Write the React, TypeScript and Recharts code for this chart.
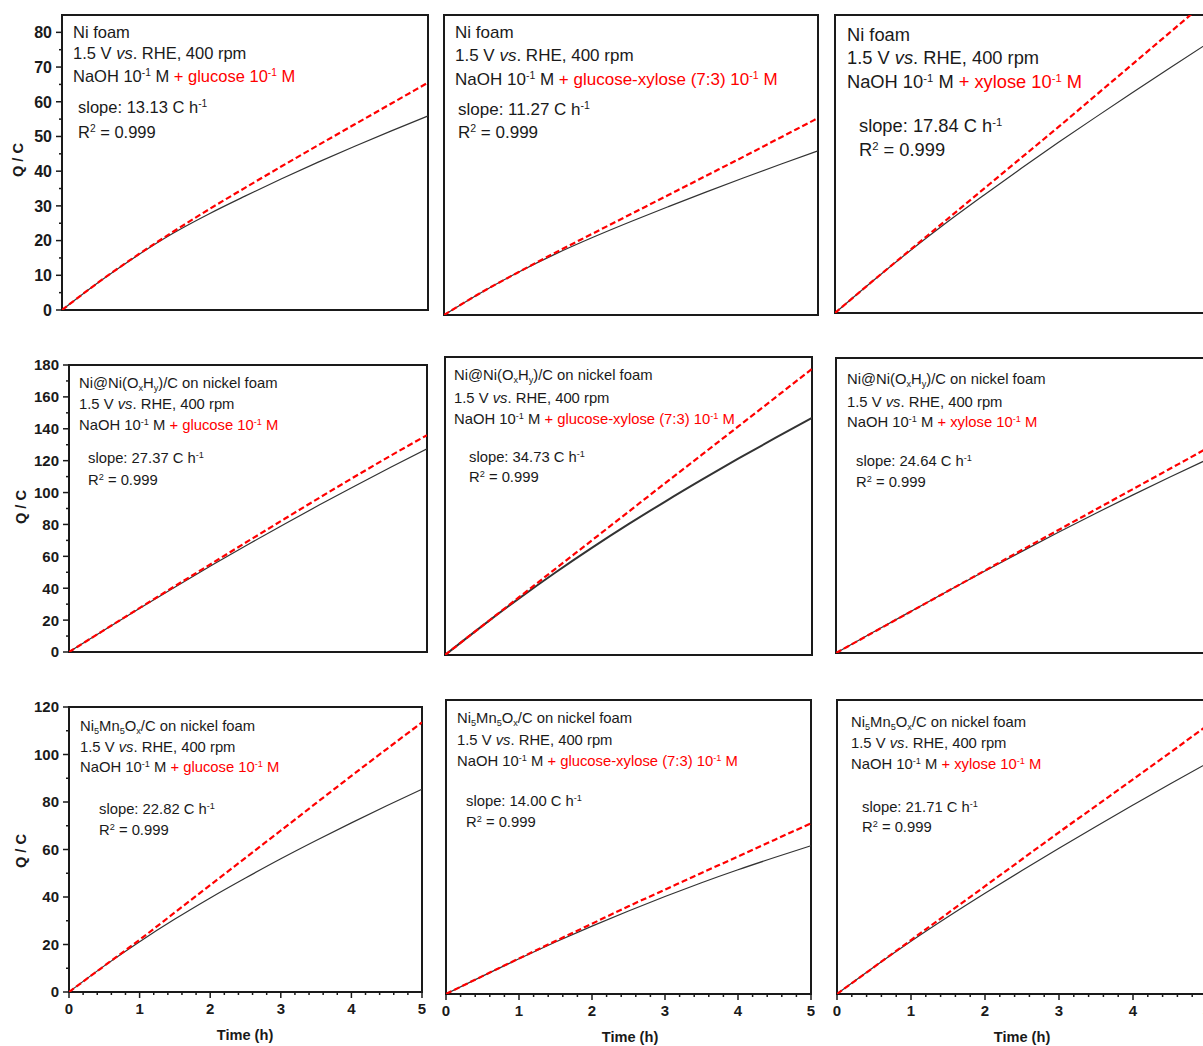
import React from 'react'
import { LineChart, Line, XAxis, YAxis, ReferenceArea } from 'recharts'

const FONT = '"Liberation Sans", Arial, sans-serif'
const RED = '#ff0000'
const INK = '#1a1a1a'

const hours = [0, 0.5, 1, 1.5, 2, 2.5, 3, 3.5, 4, 4.5, 5]

// Ni foam (black = NaOH only, red = NaOH + sugar)
const niFoamGlcBlank = [0, 8, 15.3, 21.9, 27.6, 32.8, 37.8, 42.6, 47.2, 51.6, 55.9]
const niFoamGlcSugar = [0, 8, 15.4, 22.3, 28.9, 35.2, 41.4, 47.5, 53.5, 59.5, 65.5]
const niFoamMixBlank = [0, 6.4, 12.2, 17.4, 22.1, 26.5, 30.7, 34.8, 38.8, 42.7, 46.5]
const niFoamMixSugar = [0, 6.4, 12.2, 17.8, 23.2, 28.6, 34, 39.4, 44.8, 50.3, 55.8]
const niFoamXylBlank = [0, 9, 17.6, 25.8, 33.6, 41.2, 48.6, 55.8, 62.9, 69.9, 76.8]
const niFoamXylSugar = [0, 9, 17.8, 26.6, 35.4, 44.2, 53, 62, 71, 80, 89]

// Ni@Ni(OxHy)/C on nickel foam
const niOhGlcBlank = [0, 14, 27.8, 41.3, 54.5, 67.4, 80, 92.3, 104.3, 116, 127.4]
const niOhGlcSugar = [0, 14, 28, 41.9, 55.7, 69.5, 83.2, 96.8, 110.2, 123.3, 136]
const niOhMixBlank = [0, 17.3, 33.9, 49.7, 64.7, 79, 92.7, 105.9, 118.7, 131.1, 143.2]
const niOhMixSugar = [0, 17.3, 34.6, 51.9, 69.2, 86.5, 103.8, 121, 138.2, 155.5, 172.8]
const niOhXylBlank = [0, 12.6, 25.1, 37.5, 49.7, 61.7, 73.5, 85, 96.2, 107.1, 117.7]
const niOhXylSugar = [0, 12.5, 25, 37.5, 50, 62.5, 74.9, 87.3, 99.7, 112.1, 124.5]

// Ni5Mn5Ox/C on nickel foam
const niMnGlcBlank = [0, 11, 21.2, 30.7, 39.6, 48, 56.1, 63.8, 71.2, 78.4, 85.4]
const niMnGlcSugar = [0, 11, 22, 33.5, 45, 56.5, 68, 79.5, 91, 102.3, 113.5]
const niMnMixBlank = [0, 7.3, 14.4, 21.2, 27.7, 33.9, 39.8, 45.4, 50.7, 55.7, 60.5]
const niMnMixSugar = [0, 7.3, 14.5, 21.6, 28.7, 35.8, 42.6, 49.4, 56.1, 62.9, 69.7]
const niMnXylBlank = [0, 11, 21.5, 31.5, 41.1, 50.4, 59.5, 68.4, 77.1, 85.7, 94.1]
const niMnXylSugar = [0, 11, 22, 33, 44, 55, 66, 76.8, 87.6, 98.5, 109.5]

const slopes = ['13.13', '11.27', '17.84', '27.37', '34.73', '24.64', '22.82', '14.00', '21.71']
const sugars = ['glucose', 'glucose-xylose (7:3)', 'xylose']

// ticks
const yMajorTop = [0, 10, 20, 30, 40, 50, 60, 70, 80]
const yMinorTop = [5, 15, 25, 35, 45, 55, 65, 75]
const yMajorMid = [0, 20, 40, 60, 80, 100, 120, 140, 160, 180]
const yMinorMid = [10, 30, 50, 70, 90, 110, 130, 150, 170]
const yMajorBot = [0, 20, 40, 60, 80, 100, 120]
const yMinorBot = [10, 30, 50, 70, 90, 110]
const xMajor = [0, 1, 2, 3, 4, 5]
const xMinor = [0.2, 0.4, 0.6, 0.8, 1.2, 1.4, 1.6, 1.8, 2.2, 2.4, 2.6, 2.8, 3.2, 3.4, 3.6, 3.8, 4.2, 4.4, 4.6, 4.8]

const sub = { fontSize: '0.62em', position: 'relative' as const, top: '0.3em', verticalAlign: 'baseline' }
const sup = { fontSize: '0.62em', position: 'relative' as const, top: '-0.55em', verticalAlign: 'baseline' }

const catalystLabels = [
  <>Ni foam</>,
  <>Ni@Ni(O<span style={sub}>x</span>H<span style={sub}>y</span>)/C on nickel foam</>,
  <>Ni<span style={sub}>5</span>Mn<span style={sub}>5</span>O<span style={sub}>x</span>/C on nickel foam</>,
]

// layout: plot box + annotation positions (page pixels)
const layout = [
  { box: [62, 15, 366, 295], yMax: 85, tx: 73, ty: [32, 53, 76], sx: 78, sy: [107, 132], fs: 16.5 },
  { box: [444, 15, 374, 300], yMax: 85, tx: 455, ty: [33, 56, 80], sx: 458, sy: [110, 133], fs: 17 },
  { box: [835, 15, 372, 298], yMax: 85, tx: 847, ty: [35, 58, 82], sx: 859, sy: [126, 150], fs: 18.3 },
  { box: [69, 365, 358, 287], yMax: 180, tx: 79, ty: [383, 404, 425], sx: 88, sy: [458, 480], fs: 14.8 },
  { box: [445, 357, 367, 298], yMax: 180, tx: 454, ty: [375, 398, 419], sx: 469, sy: [457, 477], fs: 14.8 },
  { box: [836, 358, 370, 295], yMax: 180, tx: 847, ty: [379, 402, 422], sx: 856, sy: [461, 482], fs: 14.8 },
  { box: [69, 707, 353, 285], yMax: 120, tx: 80, ty: [726, 747, 767], sx: 99, sy: [809, 830], fs: 14.8 },
  { box: [446, 700, 365, 294], yMax: 120, tx: 457, ty: [718, 740, 761], sx: 466, sy: [801, 822], fs: 14.8 },
  { box: [837, 700, 370, 294], yMax: 120, tx: 851, ty: [722, 743, 764], sx: 862, sy: [807, 827], fs: 14.8 },
]

const series = [
  [niFoamGlcBlank, niFoamGlcSugar], [niFoamMixBlank, niFoamMixSugar], [niFoamXylBlank, niFoamXylSugar],
  [niOhGlcBlank, niOhGlcSugar], [niOhMixBlank, niOhMixSugar], [niOhXylBlank, niOhXylSugar],
  [niMnGlcBlank, niMnGlcSugar], [niMnMixBlank, niMnMixSugar], [niMnXylBlank, niMnXylSugar],
]

const yTicksByRow = [
  [yMajorTop, yMinorTop],
  [yMajorMid, yMinorMid],
  [yMajorBot, yMinorBot],
]
const yTickFont = [16, 15, 15]

const YW = 60
const XH = 40
const MT = 12
const MB = 14
const ML = 12
const MR = 4

function makeYTick(major: number[], fs: number) {
  return (props: any) => {
    const { x, y, payload } = props
    const isMajor = major.includes(payload.value)
    return (
      <g>
        <line x1={x} x2={x - (isMajor ? 6 : 3)} y1={y} y2={y} stroke={INK} strokeWidth={1.5} />
        {isMajor && (
          <text x={x - 10} y={y} dy="0.36em" textAnchor="end" fontSize={fs} fontWeight={700}
            fill={INK} fontFamily={FONT}>{payload.value}</text>
        )}
      </g>
    )
  }
}

function makeXTick(major: number[]) {
  return (props: any) => {
    const { x, y, payload } = props
    const isMajor = major.includes(payload.value)
    return (
      <g>
        <line x1={x} x2={x} y1={y} y2={y + (isMajor ? 6 : 3)} stroke={INK} strokeWidth={1.5} />
        {isMajor && (
          <text x={x} y={y + 17} dy="0.36em" textAnchor="middle" fontSize={15} fontWeight={700}
            fill={INK} fontFamily={FONT}>{payload.value}</text>
        )}
      </g>
    )
  }
}

function Panel({ idx }: { idx: number }) {
  const row = Math.floor(idx / 3)
  const col = idx % 3
  const L = layout[idx]
  const [bx, by, bw, bh] = L.box
  const showY = col === 0
  const showX = row === 2
  const [blank, sugar] = series[idx]
  const data = hours.map((t, i) => ({ t, blank: blank[i], sugar: sugar[i] }))
  const [yMajor, yMinor] = yTicksByRow[row]
  const padL = showY ? YW : ML
  const padB = showX ? XH : MB
  const lh = Math.round(L.fs * 1.2)
  const line = (cy: number, x: number, content: React.ReactNode, key: string) => (
    <div key={key} style={{
      position: 'absolute', left: x, top: cy - L.fs * 0.6, fontSize: L.fs, lineHeight: `${lh}px`,
      whiteSpace: 'nowrap', color: INK, fontFamily: FONT,
    }}>{content}</div>
  )
  return (
    <>
      <div style={{ position: 'absolute', left: bx - padL, top: by - MT }}>
        <LineChart width={padL + bw + MR} height={MT + bh + padB} data={data}
          margin={{ top: MT, right: MR, bottom: showX ? 0 : MB, left: showY ? 0 : ML }}>
          <XAxis dataKey="t" type="number" domain={[0, 5]} hide={!showX} height={showX ? XH : 0}
            ticks={[...xMajor, ...xMinor]} interval={0} tickSize={0} tickMargin={0}
            tickLine={false} axisLine={false} tick={makeXTick(xMajor)} allowDataOverflow />
          <YAxis type="number" domain={[0, L.yMax]} hide={!showY} width={showY ? YW : 0}
            ticks={[...yMajor, ...yMinor]} interval={0} tickSize={0} tickMargin={0}
            tickLine={false} axisLine={false} tick={makeYTick(yMajor, yTickFont[row])} allowDataOverflow />
          <Line type="monotone" dataKey="blank" stroke="#333" strokeWidth={idx === 4 ? 2 : 1.2}
            dot={false} isAnimationActive={false} />
          <Line type="monotone" dataKey="sugar" stroke={RED} strokeWidth={2.2} strokeDasharray="6 3"
            dot={false} isAnimationActive={false} />
          <ReferenceArea x1={0} x2={5} y1={0} y2={L.yMax} fill="none" fillOpacity={0}
            stroke={INK} strokeWidth={2} />
        </LineChart>
      </div>
      {line(L.ty[0], L.tx, catalystLabels[row], 'c')}
      {line(L.ty[1], L.tx, <>1.5 V <i>vs</i>. RHE, 400 rpm</>, 'v')}
      {line(L.ty[2], L.tx, <>NaOH 10<span style={sup}>-1</span> M <span style={{ color: RED }}>+ {sugars[col]} 10<span style={sup}>-1</span> M</span></>, 'n')}
      {line(L.sy[0], L.sx, <>slope: {slopes[idx]} C h<span style={sup}>-1</span></>, 's')}
      {line(L.sy[1], L.sx, <>R<span style={sup}>2</span> = 0.999</>, 'r')}
    </>
  )
}

const axisTitle: React.CSSProperties = {
  position: 'absolute', fontFamily: FONT, fontWeight: 700, fontSize: 14.6, color: INK, whiteSpace: 'nowrap',
}

export default function App() {
  return (
    <div style={{
      position: 'absolute', left: 0, top: 0, width: 1203, height: 1046, overflow: 'hidden',
      background: '#fff', fontFamily: FONT,
    }}>
      {layout.map((_, i) => <Panel key={i} idx={i} />)}
      {[160, 507, 851].map((cy, i) => (
        <div key={'q' + i} style={{
          ...axisTitle, left: i === 0 ? 18 : 21, top: cy, transform: 'translate(-50%, -50%) rotate(-90deg)',
        }}>Q / C</div>
      ))}
      {[245, 630, 1022].map((cx, i) => (
        <div key={'t' + i} style={{
          ...axisTitle, left: cx, top: i === 0 ? 1035 : 1037, transform: 'translate(-50%, -50%)',
        }}>Time (h)</div>
      ))}
    </div>
  )
}
